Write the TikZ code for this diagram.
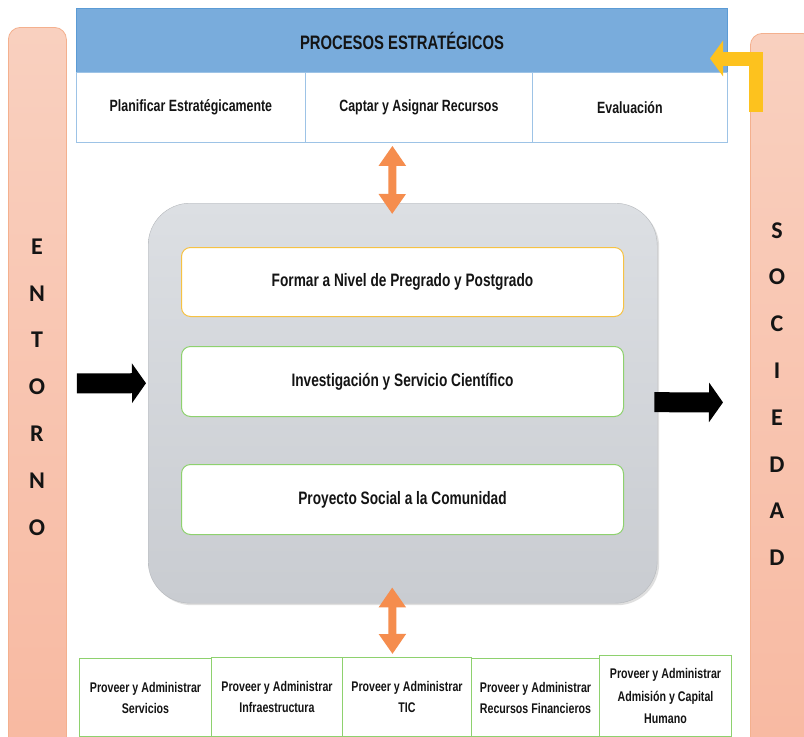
\documentclass[tikz,border=0pt]{standalone}
\usepackage{fontspec}
\setmainfont{Liberation Sans}
\newfontfamily\narrow[FakeStretch=0.76]{Liberation Sans}
\newfontfamily\calib{Carlito}
\usetikzlibrary{arrows.meta,calc,shadows}
\definecolor{barTop}{HTML}{F9D0BF}
\definecolor{barBot}{HTML}{F8B9A1}
\definecolor{barLine}{HTML}{F4B08E}
\definecolor{hdr}{HTML}{79ACDC}
\definecolor{hdrLine}{HTML}{5B9BD5}
\definecolor{cellLine}{HTML}{9DC3E6}
\definecolor{greyTop}{HTML}{DCDFE3}
\definecolor{greyBot}{HTML}{C9CCD1}
\definecolor{boxOr}{HTML}{F6C244}
\definecolor{boxGr}{HTML}{8ED16E}
\definecolor{orng}{HTML}{F58D4E}
\definecolor{gold}{HTML}{FDC21E}
\definecolor{txt}{HTML}{141414}
\tikzset{
  sidebar/.style={anchor=north west, draw=barLine, line width=0.8pt, top color=barTop, bottom color=barBot, rounded corners=12pt, inner sep=0pt},
  sideletters/.style={align=center, font=\calib\bfseries\fontsize{24}{46.8}\selectfont, text=txt},
  hdrbox/.style={anchor=north west, draw=hdrLine, fill=hdr, line width=1pt, inner sep=0pt, minimum width=651pt, minimum height=64pt, font=\narrow\bfseries\fontsize{19.5}{22}\selectfont, text=txt},
  cell/.style={anchor=north west, draw=cellLine, fill=white, line width=0.8pt, inner sep=0pt, minimum height=70pt, font=\narrow\bfseries\fontsize{16.3}{19}\selectfont, text=txt},
  corebox/.style={anchor=north west, top color=greyTop, bottom color=greyBot, draw=greyBot!90!black, line width=0.4pt, rounded corners=42pt, minimum width=509pt, minimum height=400pt, inner sep=0pt, drop shadow={shadow xshift=2pt, shadow yshift=-2pt, opacity=0.25}},
  procbox/.style={anchor=north west, fill=white, line width=1pt, rounded corners=9pt, minimum width=442pt, minimum height=70pt, inner sep=0pt, font=\narrow\bfseries\fontsize{18}{21}\selectfont, text=txt},
  supbox/.style={anchor=north west, draw=boxGr, fill=white, line width=1pt, inner sep=0pt, align=center, font=\narrow\bfseries\fontsize{14}{21}\selectfont, text=txt},
  dblarrow/.style={draw=orng, line width=8pt, {Triangle[width=26pt,length=20pt]}-{Triangle[width=26pt,length=20pt]}},
  blackarrow/.style={draw=black, line width=20pt, -{Triangle[width=39pt,length=14pt]}},
  goldarrow/.style={draw=gold, line width=14pt, line join=miter, -{Triangle[width=35pt,length=13pt]}}
}
\begin{document}
\begin{tikzpicture}[x=1pt,y=-1pt]
\useasboundingbox (0,0) rectangle (804,737);
\fill[white] (0,0) rectangle (804,737);
% side bars
\node[sidebar, minimum width=58pt, minimum height=730pt] (entorno) at (8,27) {};
\node[sidebar, minimum width=64pt, minimum height=730pt] (sociedad) at (750,33) {};
\node[sideletters] (entornoTxt) at (37,387) {E\\N\\T\\O\\R\\N\\O};
\node[sideletters] (sociedadTxt) at (777,394) {S\\O\\C\\I\\E\\D\\A\\D};
% strategic processes
\node[hdrbox] (hdr) at (76,8) {PROCESOS ESTRATÉGICOS};
\node[cell, minimum width=229pt] (planificar) at (76,72) {Planificar Estratégicamente};
\node[cell, minimum width=227pt] (captar) at (305,72) {Captar y Asignar Recursos};
\node[cell, minimum width=195pt] (evaluacion) at (532,72) {Evaluación};
% core
\node[corebox] (core) at (148,203) {};
\node[procbox, draw=boxOr, minimum height=69pt] (formar) at (181,247) {Formar a Nivel de Pregrado y Postgrado};
\node[procbox, draw=boxGr] (investigacion) at (181,346) {Investigación y Servicio Científico};
\node[procbox, draw=boxGr] (proyecto) at (181,464) {Proyecto Social a la Comunidad};
% support processes
\node[supbox, minimum width=132pt, minimum height=78pt] (servicios) at (79,658) {Proveer y Administrar\\Servicios};
\node[supbox, minimum width=131pt, minimum height=79pt] (infra) at (211,657) {Proveer y Administrar\\Infraestructura};
\node[supbox, minimum width=129pt, minimum height=79pt] (tic) at (342,657) {Proveer y Administrar\\TIC};
\node[supbox, minimum width=128pt, minimum height=78pt] (financieros) at (471,658) {Proveer y Administrar\\Recursos Financieros};
\node[supbox, minimum width=132pt, minimum height=81pt, font=\narrow\bfseries\fontsize{14}{22.5}\selectfont] (admision) at (599,655) {Proveer y Administrar\\Admisión y Capital\\Humano};
% connectors
\coordinate (topA) at ($(captar.south)+(-26.5,3)$);
\coordinate (topB) at ($(core.north)+(-10.5,11)$);
\draw[dblarrow] (topA) -- (topB);
\coordinate (botA) at ($(core.south)+(-10.5,-16)$);
\coordinate (botB) at ($(tic.north)+(-14.5,-3)$);
\draw[dblarrow] (botA) -- (botB);
\coordinate (inA) at ($(entorno.east)+(10,-9)$);
\coordinate (inB) at ($(core.west)+(-2,-20)$);
\draw[blackarrow] (inA) -- (inB);
\coordinate (outA) at ($(core.east)+(-3,-1)$);
\coordinate (outB) at ($(sociedad.west)+(-27,4)$);
\draw[blackarrow] (outA) -- (outB);
\coordinate (fbA) at (756,112);
\coordinate (fbB) at ($(hdr.east)+(-18,18)$);
\draw[goldarrow] (fbA) |- (fbB);
\end{tikzpicture}
\end{document}
